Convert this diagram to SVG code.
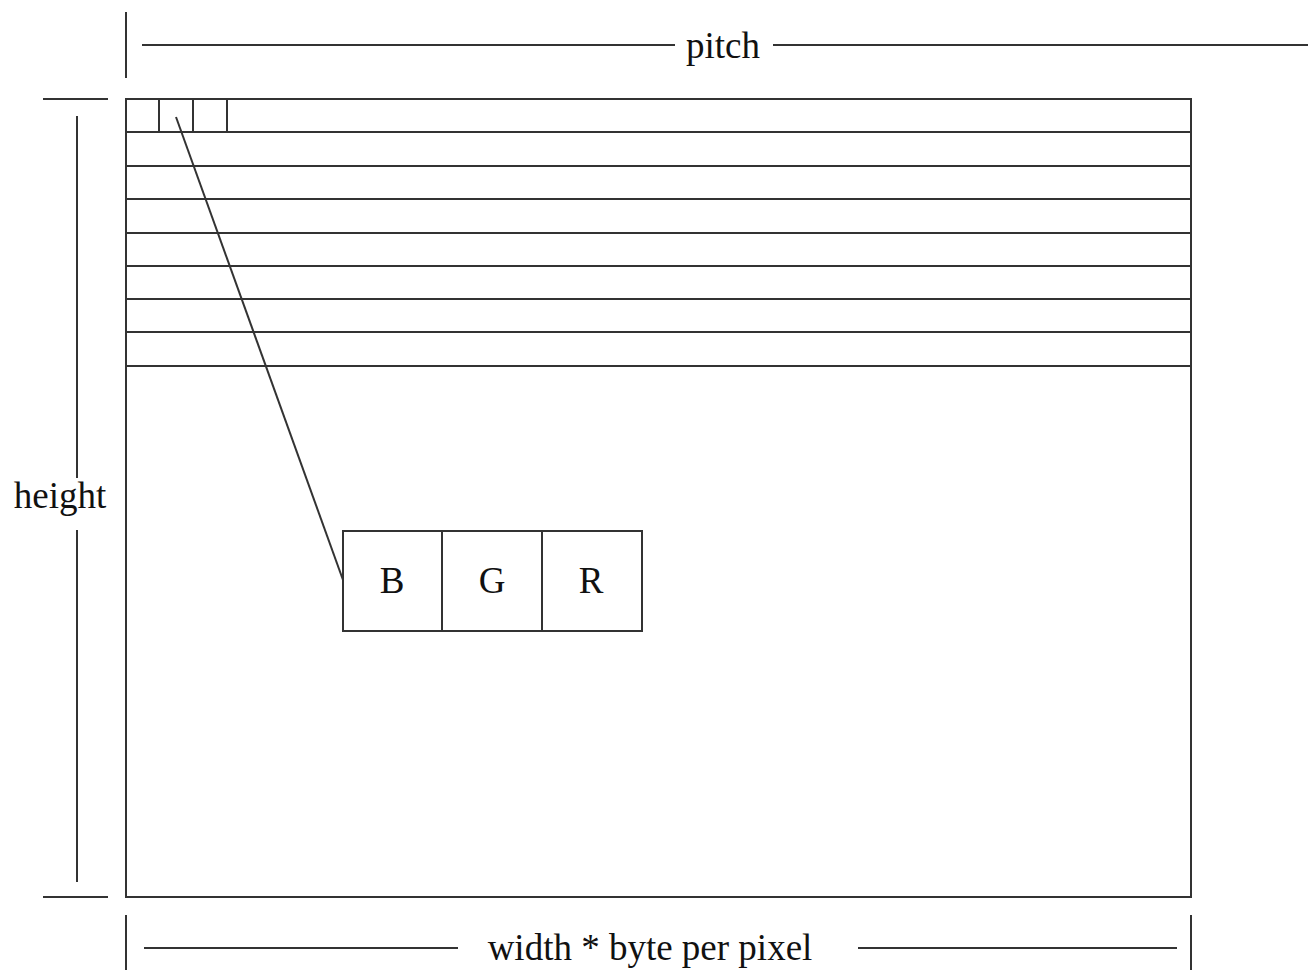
<svg xmlns="http://www.w3.org/2000/svg" width="1312" height="970" viewBox="0 0 1312 970">
<style>
.l{stroke:#333;stroke-width:2;fill:none}
.t{font-family:"Liberation Serif",serif;font-size:37px;fill:#111}
</style>
<rect width="1312" height="970" fill="#fff"/>
<g id="pitch">
<line class="l" x1="126" y1="12" x2="126" y2="78"/>
<line class="l" x1="142" y1="45" x2="675" y2="45"/>
<line class="l" x1="773" y1="45" x2="1308" y2="45"/>
<text class="t" x="723" y="58" text-anchor="middle">pitch</text>
</g>
<g id="buffer">
<rect class="l" x="126" y="99" width="1065" height="798"/>
<line class="l" x1="126" y1="132" x2="1191" y2="132"/>
<line class="l" x1="126" y1="166" x2="1191" y2="166"/>
<line class="l" x1="126" y1="199" x2="1191" y2="199"/>
<line class="l" x1="126" y1="233" x2="1191" y2="233"/>
<line class="l" x1="126" y1="266" x2="1191" y2="266"/>
<line class="l" x1="126" y1="299" x2="1191" y2="299"/>
<line class="l" x1="126" y1="332" x2="1191" y2="332"/>
<line class="l" x1="126" y1="366" x2="1191" y2="366"/>
<line class="l" x1="159" y1="99" x2="159" y2="132"/>
<line class="l" x1="193" y1="99" x2="193" y2="132"/>
<line class="l" x1="227" y1="99" x2="227" y2="132"/>
</g>
<g id="height">
<line class="l" x1="43" y1="99" x2="108" y2="99"/>
<line class="l" x1="43" y1="897" x2="108" y2="897"/>
<line class="l" x1="77" y1="116" x2="77" y2="478"/>
<line class="l" x1="77" y1="530" x2="77" y2="882"/>
<text class="t" x="60" y="508" text-anchor="middle">height</text>
</g>
<g id="pixel">
<rect class="l" x="343" y="531" width="299" height="100"/>
<line class="l" x1="442" y1="531" x2="442" y2="631"/>
<line class="l" x1="542" y1="531" x2="542" y2="631"/>
<text class="t" x="392" y="593" text-anchor="middle">B</text>
<text class="t" x="492" y="593" text-anchor="middle">G</text>
<text class="t" x="591" y="593" text-anchor="middle">R</text>
</g>
<g id="connectors">
<line class="l" x1="176" y1="117" x2="343" y2="580"/>
</g>
<g id="width">
<line class="l" x1="126" y1="915" x2="126" y2="970"/>
<line class="l" x1="1191" y1="915" x2="1191" y2="970"/>
<line class="l" x1="144" y1="948" x2="458" y2="948"/>
<line class="l" x1="858" y1="948" x2="1177" y2="948"/>
<text class="t" x="650" y="960" text-anchor="middle">width * byte per pixel</text>
</g>
</svg>
